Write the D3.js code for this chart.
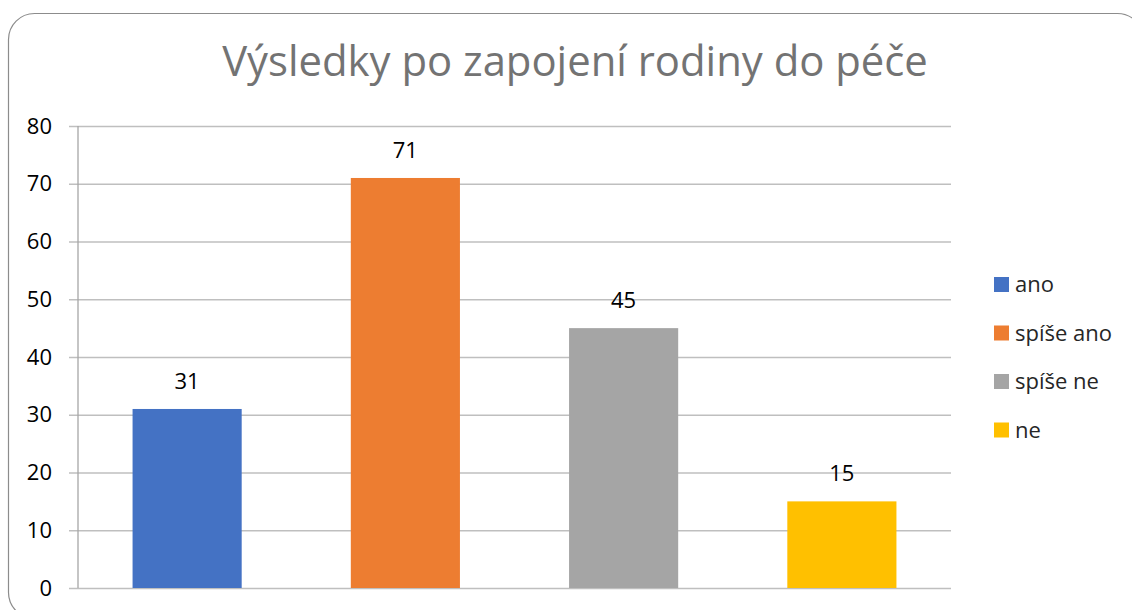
<!DOCTYPE html>
<html>
<head>
    <meta charset="utf-8">
    <title>Výsledky po zapojení rodiny do péče</title>
    <script src="https://d3js.org/d3.v7.min.js"></script>
    <style type="text/css">
        body { margin: 0; background: #fff; }
        text { font-family: "Open Sans", "Noto Sans", sans-serif; }
    </style>
</head>
<body>
    <script type="text/javascript">
        // chart data
        let categories = ["ano", "spíše ano", "spíše ne", "ne"];
        let values = [31, 71, 45, 15];
        let colors = ["#4472C4", "#ED7D31", "#A5A5A5", "#FFC000"];
        let yTicks = [0, 10, 20, 30, 40, 50, 60, 70, 80];
        let title = "Výsledky po zapojení rodiny do péče";

        let width = 1132,
            height = 610;

        let svg = d3.select("body").append("svg")
            .attr("width", width)
            .attr("height", height);

        // rounded frame
        svg.append("rect")
            .attr("x", 8.5).attr("y", 13.5)
            .attr("width", 1135).attr("height", 605)
            .attr("rx", 26).attr("ry", 26)
            .attr("fill", "#fff")
            .attr("stroke", "#8c8c8c")
            .attr("stroke-width", 1.2);

        let plot = { left: 78, right: 951, top: 126, bottom: 588 };

        let x = d3.scaleBand()
            .domain(categories)
            .range([plot.left, plot.right])
            .paddingInner(0.5)
            .paddingOuter(0.25);

        let y = d3.scaleLinear()
            .domain([0, 80])
            .range([plot.bottom, plot.top]);

        // gridlines + ticks
        let yAxis = d3.axisLeft(y)
            .tickValues(yTicks)
            .tickSize(-(plot.right - plot.left))
            .tickPadding(26)
            .tickFormat(d3.format("d"));

        let gy = svg.append("g")
            .attr("transform", `translate(${plot.left},0)`)
            .call(yAxis);
        gy.select(".domain").remove();
        gy.selectAll(".tick line")
            .attr("x1", -9)
            .attr("stroke", "#bfbfbf")
            .attr("stroke-width", 1.3);
        gy.selectAll(".tick text")
            .attr("fill", "#000")
            .style("font-size", "22px")
            .style("font-family", "'Open Sans', sans-serif");

        // vertical axis line
        svg.append("line")
            .attr("x1", plot.left).attr("x2", plot.left)
            .attr("y1", plot.top).attr("y2", plot.bottom)
            .attr("stroke", "#a6a6a6")
            .attr("stroke-width", 1.3);

        // bars
        svg.selectAll("rect.bar")
            .data(values)
            .enter().append("rect")
            .attr("class", "bar")
            .attr("x", (d, i) => x(categories[i]))
            .attr("width", x.bandwidth())
            .attr("y", d => y(d))
            .attr("height", d => y(0) - y(d))
            .attr("fill", (d, i) => colors[i]);

        // data labels
        svg.selectAll("text.lbl")
            .data(values)
            .enter().append("text")
            .attr("class", "lbl")
            .attr("x", (d, i) => x(categories[i]) + x.bandwidth() / 2)
            .attr("y", d => y(d) - 20)
            .attr("text-anchor", "middle")
            .attr("fill", "#000")
            .style("font-size", "22px")
            .text(d => d);

        // title
        let t = svg.append("text")
            .attr("x", 575)
            .attr("y", 76)
            .attr("text-anchor", "middle")
            .attr("fill", "#737373")
            .style("font-size", "40px")
            .text(title);
        let tw = t.node().getComputedTextLength();
        t.style("font-size", (40 * 706 / tw) + "px");

        // legend
        let legend = svg.append("g");
        let rows = legend.selectAll("g")
            .data(categories)
            .enter().append("g")
            .attr("transform", (d, i) => `translate(994,${277 + i * 48.5})`);
        rows.append("rect")
            .attr("width", 15).attr("height", 15)
            .attr("fill", (d, i) => colors[i]);
        rows.append("text")
            .attr("x", 21)
            .attr("y", 7.5)
            .attr("dy", "0.35em")
            .attr("fill", "#262626")
            .style("font-size", "22px")
            .text(d => d);
    </script>
</body>
</html>
